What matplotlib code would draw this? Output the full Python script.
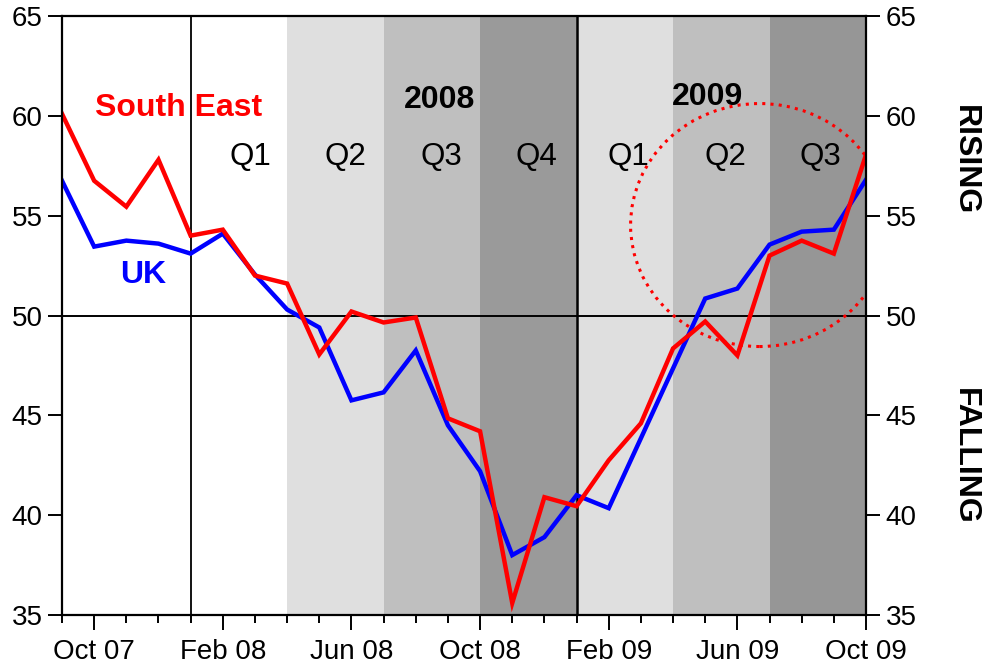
import matplotlib
matplotlib.use("Agg")
import matplotlib.pyplot as plt
from matplotlib.patches import Ellipse

plt.rcParams['font.family'] = ['Liberation Sans', 'DejaVu Sans']

months = ['Sep 07', 'Oct 07', 'Nov 07', 'Dec 07', 'Jan 08', 'Feb 08', 'Mar 08', 'Apr 08',
          'May 08', 'Jun 08', 'Jul 08', 'Aug 08', 'Sep 08', 'Oct 08', 'Nov 08', 'Dec 08',
          'Jan 09', 'Feb 09', 'Mar 09', 'Apr 09', 'May 09', 'Jun 09', 'Jul 09', 'Aug 09',
          'Sep 09', 'Oct 09']
south_east = [60.1, 56.75, 55.45, 57.8, 54.0, 54.3, 52.0, 51.6, 48.05, 50.2, 49.65, 49.9,
              44.85, 44.2, 35.6, 40.9, 40.45, 42.75, 44.6, 48.35, 49.7, 48.0, 53.0, 53.75,
              53.1, 58.05]
uk = [56.75, 53.45, 53.75, 53.6, 53.1, 54.1, 52.05, 50.3, 49.4, 45.75, 46.15, 48.25,
      44.5, 42.2, 38.0, 38.9, 41.0, 40.35, 43.85, 47.35, 50.85, 51.35, 53.55, 54.2,
      54.3, 56.8]
tick_labels = ['Oct 07', 'Feb 08', 'Jun 08', 'Oct 08', 'Feb 09', 'Jun 09', 'Oct 09']
quarter_labels = ['Q1', 'Q2', 'Q3', 'Q4', 'Q1', 'Q2', 'Q3']
quarter_starts = ['Jan 08', 'Apr 08', 'Jul 08', 'Oct 08', 'Jan 09', 'Apr 09', 'Jul 09']
quarter_colors = ['white', '#DFDFDF', '#BFBFBF', '#9A9A9A', '#DFDFDF', '#BFBFBF', '#969696']
year_labels = ['2008', '2009']

x = list(range(len(months)))
idx = {m: i for i, m in enumerate(months)}

fig = plt.figure(figsize=(9.82, 6.68), dpi=100)
ax = fig.add_axes([62/982, 1-615/668, 804/982, 599/668])

# quarter shading
for start, col in zip(quarter_starts, quarter_colors):
    s = idx[start]
    ax.axvspan(s, s + 3, color=col, lw=0, zorder=0)

# reference lines
ax.axhline(50, color='black', lw=1.4, zorder=2)
ax.axvline(idx['Jan 08'], color='black', lw=1.3, zorder=2)
ax.axvline(idx['Jan 09'], color='black', lw=1.8, zorder=2)

ax.plot(x, south_east, color='#FF0000', lw=3.2, zorder=4, solid_joinstyle='miter')
ax.plot(x, uk, color='#0000FF', lw=3.2, zorder=3, solid_joinstyle='miter')

ell = Ellipse((21.69, 54.53), width=8.02, height=12.17, fill=False, edgecolor='#FF0000',
              lw=2.2, linestyle=(0, (1, 1.7)), zorder=5)
ax.add_patch(ell)

ax.set_xlim(0, len(months) - 1)
ax.set_ylim(35, 65)

major_pos = [idx[m] for m in tick_labels]
ax.set_xticks(major_pos)
ax.set_xticklabels(tick_labels)
ax.set_xticks(x, minor=True)
ax.tick_params(axis='x', which='major', length=11, width=1.4, direction='out',
               labelsize=20, pad=6)
ax.tick_params(axis='x', which='minor', length=6, width=1.4, direction='out')

yt = [35, 40, 45, 50, 55, 60, 65]
ax.set_yticks(yt)
ax.tick_params(axis='y', which='major', length=10, width=1.4, direction='out',
               labelsize=20, pad=4, left=True, right=True, labelleft=True, labelright=True)

for sp in ax.spines.values():
    sp.set_linewidth(1.6)
    sp.set_zorder(6)

q_kw = dict(ha='center', va='center', fontsize=22.5)
b_kw = dict(ha='center', va='center', fontsize=23, fontweight='bold')
# quarter labels
q_x = [5.85, 8.8, 11.81, 14.76, 17.62, 20.62, 23.57]
for qx, lab in zip(q_x, quarter_labels):
    ax.text(qx, 57.94, lab, **q_kw, zorder=6)
ax.text(11.75, 60.78, year_labels[0], **b_kw, zorder=6)
ax.text(20.07, 60.94, year_labels[1], **b_kw, zorder=6)

ax.text(3.61, 60.39, 'South East', color='#FF0000', **b_kw, zorder=6)
ax.text(2.52, 52.03, 'UK', color='#0000FF', **b_kw, zorder=6)

ax.text(1.123, 0.76, 'RISING', transform=ax.transAxes, rotation=270, **b_kw)
ax.text(1.123, 0.264, 'FALLING', transform=ax.transAxes, rotation=270, **b_kw)

fig.savefig('out.png', dpi=100)
